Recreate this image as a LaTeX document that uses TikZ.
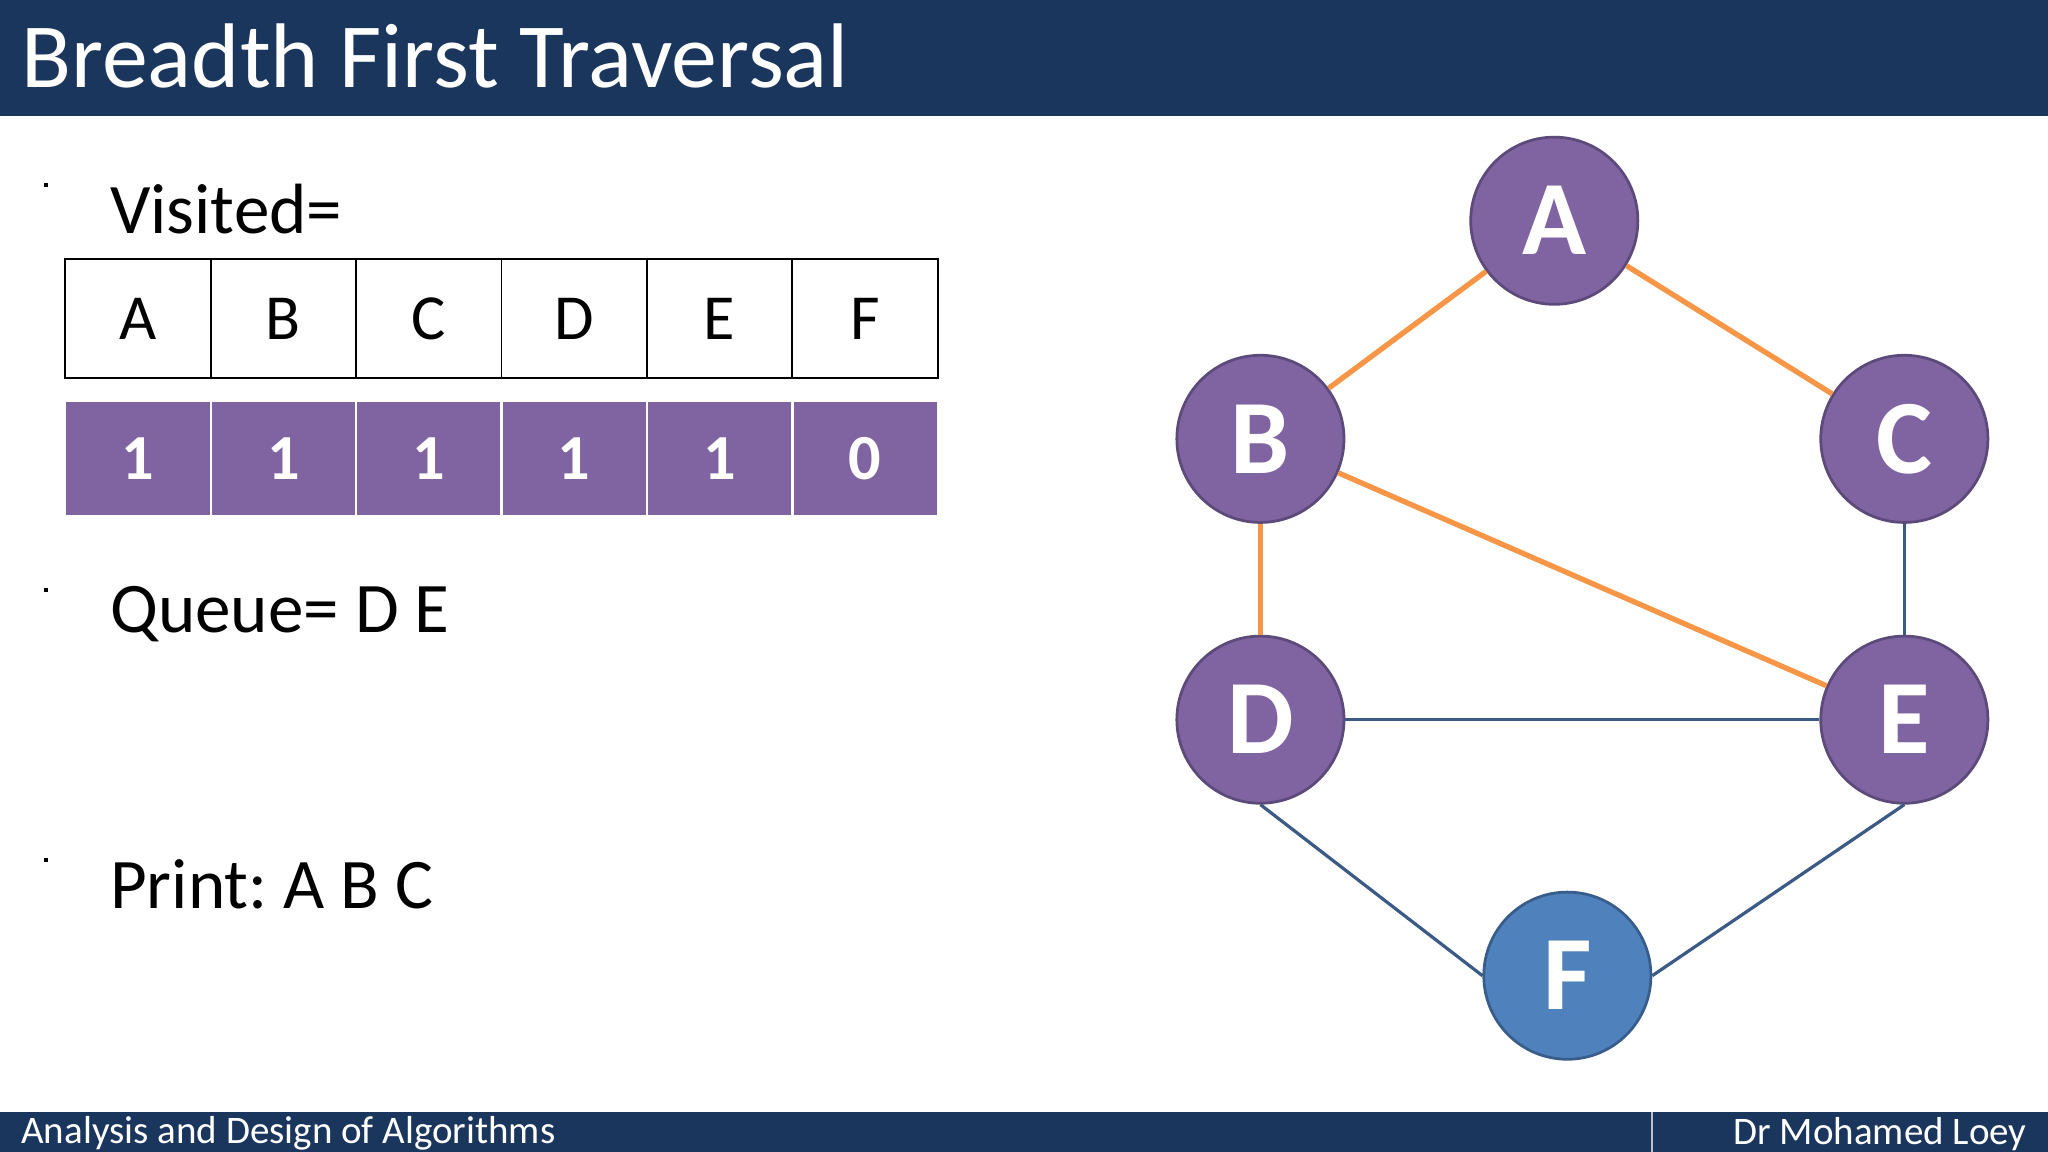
\documentclass[tikz,border=0pt]{standalone}
\usepackage{fontspec}
\setmainfont{Carlito}
\definecolor{navy}{RGB}{27,54,93}
\definecolor{purp}{RGB}{128,100,162}
\definecolor{purpd}{RGB}{92,74,122}
\definecolor{bluef}{RGB}{79,129,189}
\definecolor{blued}{RGB}{56,93,138}
\definecolor{orng}{RGB}{247,150,70}
\definecolor{edgeb}{RGB}{59,90,133}
\tikzset{
 gnode/.style={circle,minimum size=2.56cm,inner sep=0pt,fill=purp,draw=purpd,line width=1.2pt,text=white,font=\fontsize{46}{46}\selectfont\bfseries},
 fnode/.style={gnode,fill=bluef,draw=blued},
 oedge/.style={orng,line width=2.3pt},
 bedge/.style={edgeb,line width=1.4pt},
 cellw/.style={draw=black,line width=0.8pt,minimum width=2.226cm,minimum height=1.82cm,inner sep=0pt,font=\fontsize{28}{28}\selectfont},
 cellp/.style={draw=white,line width=1pt,fill=purp,minimum width=2.226cm,minimum height=1.76cm,inner sep=0pt,text=white,font=\fontsize{28}{28}\selectfont\bfseries},
 bullet/.style={draw=black,line width=1.5pt,minimum size=0.56cm,inner sep=0pt,fill=white,
   append after command={}},
 btext/.style={anchor=west,inner sep=0pt,font=\fontsize{31}{31}\selectfont},
}
\newcommand{\mybullet}[2]{%
 \fill[black] (#1+0.08,#2-0.08) rectangle +(0.56,-0.56);
 \draw[black,line width=1.4pt,fill=white] (#1,#2) rectangle +(0.56,-0.56);}
\begin{document}
\begin{tikzpicture}[x=0.02cm,y=-0.02cm]
\useasboundingbox (0,0) rectangle (1568,882);
\fill[white] (0,0) rectangle (1568,882);
% header
\fill[navy] (0,0) rectangle (1568,89);
\node[anchor=west,text=white,inner sep=0pt,font=\fontsize{40}{40}\selectfont] (title) at (16,43) {Breadth First Traversal};
% footer
\fill[navy] (0,851) rectangle (1568,882);
\draw[white!70!navy,line width=0.8pt] (1265,851) -- (1265,882);
\node[anchor=west,text=white,inner sep=0pt,font=\fontsize{17}{17}\selectfont] (foot1) at (16,868) {Analysis and Design of Algorithms};
\node[anchor=east,text=white,inner sep=0pt,font=\fontsize{17}{17}\selectfont] (foot2) at (1552,868) {Dr Mohamed Loey};
% bullets
\mybullet{35}{142}
\node[btext] (vis) at (84,160) {Visited=};
\mybullet{35}{452}
\node[btext] (que) at (84,470) {Queue= D E};
\mybullet{35}{659}
\node[btext] (prt) at (84,677) {Print:\ A B C};
% table
\foreach \l [count=\i] in {A,B,C,D,E,F}{
 \node[cellw] (h\i) at (50+111.33*\i-55.67,244) {\l};
}
\foreach \v [count=\i] in {1,1,1,1,1,0}{
 \node[cellp] (v\i) at (50+111.33*\i-55.67,351) {\v};
}
% graph
\node[gnode] (A) at (1190,169) {A};
\node[gnode] (B) at (965,336) {B};
\node[gnode] (C) at (1458,336) {C};
\node[gnode] (D) at (965,551) {D};
\node[gnode] (E) at (1458,551) {E};
\node[fnode] (F) at (1200,747) {F};
\begin{scope}[on background layer/.style={}]
\end{scope}
\draw[oedge] (A) -- (B);
\draw[oedge] (A) -- (C);
\draw[oedge] (B) -- (D);
\draw[oedge] (B) -- (E);
\draw[bedge] (C) -- (E);
\draw[bedge] (D) -- (E);
\draw[bedge] (D.south) -- (F.west);
\draw[bedge] (E.south) -- (F.east);
\end{tikzpicture}
\end{document}
